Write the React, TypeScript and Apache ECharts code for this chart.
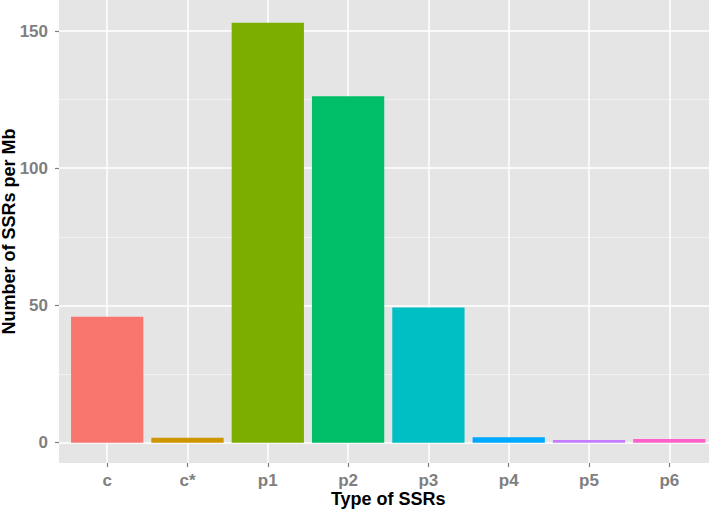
import React, { useEffect, useRef } from "react";
import * as echarts from "echarts";

const categories = ["c", "c*", "p1", "p2", "p3", "p4", "p5", "p6"];
const values = [45.9, 1.8, 153.0, 126.2, 49.3, 2.0, 1.0, 1.3];
const colors = ["#F8766D", "#CD9600", "#7CAE00", "#00BE67", "#00BFC4", "#00A9FF", "#C77CFF", "#FF61CC"];
const yTicks = [0, 50, 100, 150];
const yMinorTicks = [25, 75, 125];
const xTitle = "Type of SSRs";
const yTitle = "Number of SSRs per Mb";

const FONT = "'Liberation Sans', Arial, Helvetica, sans-serif";

export default function App() {
  const ref = useRef<HTMLDivElement>(null);
  useEffect(() => {
    if (!ref.current) return;
    const chart = echarts.init(ref.current, undefined, { renderer: "svg" });
    const xIdx = categories.map((_, i) => i);
    chart.setOption({
      animation: false,
      backgroundColor: "#ffffff",
      textStyle: { fontFamily: FONT },
      grid: {
        left: 59,
        right: -8.5,
        top: 0,
        bottom: 46,
        show: true,
        backgroundColor: "#E5E5E5",
        borderWidth: 0,
        containLabel: false,
        outerBoundsMode: "none",
      },
      xAxis: {
        type: "value",
        min: -0.6,
        max: 7.6,
        name: xTitle,
        nameLocation: "middle",
        nameGap: 27,
        nameMoveOverlap: false,
        nameTextStyle: { color: "#000", fontWeight: "bold", fontSize: 18, fontFamily: FONT, lineHeight: 18 },
        axisLine: { show: false, onZero: false },
        axisTick: { show: true, customValues: xIdx, length: 4, lineStyle: { color: "#7F7F7F", width: 1.2 } },
        axisLabel: {
          customValues: xIdx,
          formatter: (v: number) => categories[Math.round(v)] ?? "",
          color: "#7F7F7F",
          fontWeight: "bold",
          fontSize: 17,
          lineHeight: 17,
          fontFamily: FONT,
          margin: 9,
        },
        splitLine: { show: true, lineStyle: { color: "#FFFFFF", width: 1.5 } },
      },
      yAxis: [
        {
          type: "value",
          min: -7.4,
          max: 161.3,
          name: yTitle,
          nameLocation: "middle",
          nameGap: 41,
          nameMoveOverlap: false,
          nameTextStyle: { color: "#000", fontWeight: "bold", fontSize: 18, fontFamily: FONT, lineHeight: 18 },
          axisLine: { show: false, onZero: false },
          axisTick: { show: true, customValues: yTicks, length: 4, lineStyle: { color: "#7F7F7F", width: 1.2 } },
          axisLabel: {
            customValues: yTicks,
            color: "#7F7F7F",
            fontWeight: "bold",
            fontSize: 17,
            fontFamily: FONT,
            margin: 11,
          },
          splitLine: { show: true, lineStyle: { color: "#FFFFFF", width: 1.5 } },
        },
        {
          type: "value",
          min: -7.4,
          max: 161.3,
          position: "left",
          axisLine: { show: false, onZero: false },
          axisTick: { show: false, customValues: yMinorTicks },
          axisLabel: { show: false, customValues: yMinorTicks },
          splitLine: { show: true, lineStyle: { color: "#F2F2F2", width: 1 } },
        },
      ],
      series: [
        {
          type: "bar",
          xAxisIndex: 0,
          yAxisIndex: 0,
          barWidth: "90%",
          data: values.map((v, i) => ({
            value: [i, v],
            itemStyle: { color: colors[i] },
          })),
        },
      ],
    });
    return () => chart.dispose();
  }, []);
  return (
    <div
      ref={ref}
      style={{ position: "fixed", left: 0, top: 0, width: 709, height: 509 }}
    />
  );
}
